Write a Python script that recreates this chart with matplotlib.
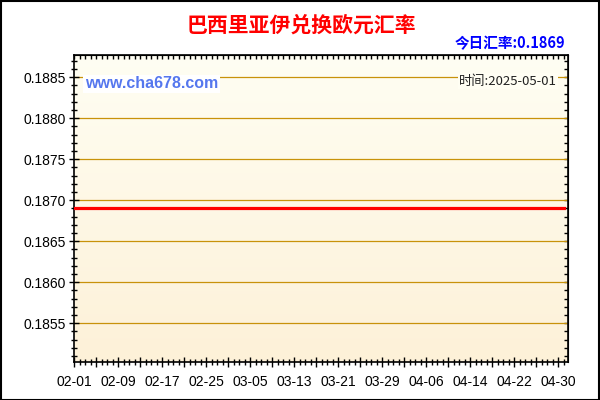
import numpy as np
import pandas as pd
import matplotlib

matplotlib.use("Agg")
import matplotlib.pyplot as plt
import matplotlib.dates as mdates
from matplotlib.ticker import FixedLocator, MultipleLocator, FuncFormatter
from matplotlib.patches import Rectangle

plt.rcParams["font.family"] = ["Liberation Sans", "Noto Sans CJK SC", "DejaVu Sans"]

TITLE = "巴西里亚伊兑换欧元汇率"
TODAY = "今日汇率:0.1869"
SITE = "www.cha678.com"
STAMP = "时间:2025-05-01"

# rate was flat over the whole window
dates = ["2025-02-01", "2025-02-09", "2025-02-17", "2025-02-25", "2025-03-05",
         "2025-03-13", "2025-03-21", "2025-03-29", "2025-04-06", "2025-04-14",
         "2025-04-22", "2025-04-30", "2025-05-01"]
rates = [0.1869, 0.1869, 0.1869, 0.1869, 0.1869, 0.1869, 0.1869,
         0.1869, 0.1869, 0.1869, 0.1869, 0.1869, 0.1869]
yticks = [0.1855, 0.1860, 0.1865, 0.1870, 0.1875, 0.1880, 0.1885]

RED, BLUE, GRID = "#FF0000", "#0000FF", "#C8920A"

x = pd.to_datetime(dates)
start = x[0]

fig = plt.figure(figsize=(6, 4), dpi=100)
ax = fig.add_axes([74 / 600, 1 - 361.7 / 400, (568 - 74) / 600, (361.7 - 55) / 400])

x0 = mdates.date2num(start)
x1 = x0 + 89.8
ax.set_xlim(x0, x1)
ax.set_ylim(0.18503, 0.18877)

# cream gradient behind the plot
grad = np.linspace(0, 1, 256).reshape(-1, 1)
cmap = matplotlib.colors.LinearSegmentedColormap.from_list("bg", ["#FDF1D8", "#FFFEF3"])
ax.imshow(grad, aspect="auto", cmap=cmap, origin="lower",
          extent=[x0, x1, 0.18503, 0.18877], zorder=0)

for yv in yticks:
    ax.axhline(yv, color=GRID, lw=0.9, zorder=1)
ax.plot(x, rates, color=RED, lw=2.3, zorder=3)

major = mdates.date2num(pd.date_range(start, periods=23, freq="4D"))
ax.xaxis.set_major_locator(FixedLocator(major))
ax.xaxis.set_minor_locator(MultipleLocator(1))
ax.xaxis.set_major_formatter(FuncFormatter(
    lambda v, p: mdates.num2date(v).strftime("%m-%d") if round(v - x0) % 8 == 0 else ""))
ax.yaxis.set_major_locator(FixedLocator(yticks))
ax.yaxis.set_minor_locator(MultipleLocator(0.0001))
ax.yaxis.set_major_formatter(FuncFormatter(lambda v, p: f"{v:.4f}"))

ax.tick_params(which="major", direction="inout", length=7, width=1, labelsize=10,
               colors="black", pad=2)
ax.tick_params(which="minor", direction="inout", length=5, width=1)
ax.tick_params(axis="x", pad=6)
for s in ax.spines.values():
    s.set_linewidth(1.2)

sx = ax.secondary_xaxis("top")
sx.xaxis.set_major_locator(MultipleLocator(1))
sx.tick_params(direction="in", length=3, width=1, labeltop=False)
sy = ax.secondary_yaxis("right")
sy.yaxis.set_major_locator(MultipleLocator(0.0001))
sy.tick_params(direction="in", length=3, width=1, labelright=False)

fig.text(0.502, 1 - 25 / 400, TITLE, ha="center", va="center", color=RED,
         fontsize=15, fontweight="bold", family=["Noto Sans CJK SC"])
fig.text(565 / 600, 1 - 43 / 400, TODAY, ha="right", va="center", color=BLUE,
         fontsize=10.5, fontweight="bold", family=["Noto Sans CJK SC", "Liberation Sans"])
ax.text(85 / 600, 1 - 84 / 400, SITE, transform=fig.transFigure, ha="left", va="center",
        color="#5577EE", fontsize=11.5, fontweight="bold", zorder=4,
        bbox=dict(boxstyle="square,pad=0.1", fc="white", ec="none"))
ax.text(557 / 600, 1 - 81 / 400, STAMP, transform=fig.transFigure, ha="right", va="center",
        color="#222222", fontsize=9.5, zorder=4, family=["Noto Sans CJK SC", "DejaVu Sans"],
        bbox=dict(boxstyle="square,pad=0.1", fc="#FFFEF3", ec="none"))

fig.patches.append(Rectangle((0.001, 0.001), 0.997, 0.997, transform=fig.transFigure,
                             fill=False, ec="black", lw=1.5))

fig.savefig("out.png", dpi=100)
